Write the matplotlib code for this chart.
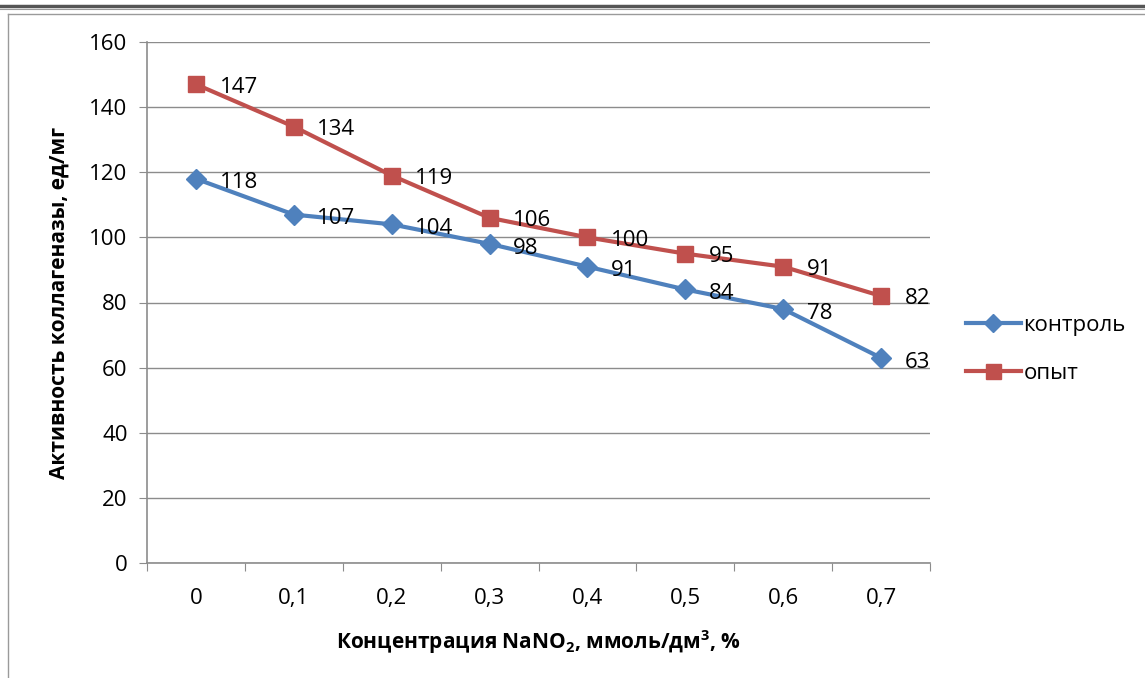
import numpy as np
import matplotlib.pyplot as plt
from matplotlib.lines import Line2D

plt.rcParams['font.family'] = ['Open Sans', 'DejaVu Sans']
plt.rcParams['mathtext.fontset'] = 'custom'
plt.rcParams['mathtext.bf'] = 'Open Sans:bold'
plt.rcParams['mathtext.rm'] = 'Open Sans'

categories = ['0', '0,1', '0,2', '0,3', '0,4', '0,5', '0,6', '0,7']
kontrol = [118, 107, 104, 98, 91, 84, 78, 63]
opyt = [147, 134, 119, 106, 100, 95, 91, 82]

blue = '#4F81BD'
red = '#C0504D'
grid = '#8C8C8C'

fig = plt.figure(figsize=(11.45, 6.78), dpi=100)
ax = fig.add_axes([147 / 1145, 1 - 563 / 678, 783 / 1145, 521 / 678])

x = np.arange(len(categories))
ax.plot(x, kontrol, color=blue, lw=3, marker='D', ms=10, label='контроль', zorder=3)
ax.plot(x, opyt, color=red, lw=3, marker='s', ms=12, label='опыт', zorder=3)

for i in range(len(x)):
	ax.annotate(str(kontrol[i]), (x[i], kontrol[i]), xytext=(17, -3), textcoords='offset points',
		ha='left', va='center', fontsize=16, zorder=4)
	ax.annotate(str(opyt[i]), (x[i], opyt[i]), xytext=(17, -2), textcoords='offset points',
		ha='left', va='center', fontsize=16, zorder=4)

ax.set_xlim(-0.5, 7.5)
ax.set_ylim(0, 160)
ax.set_yticks(range(0, 161, 20))
ax.yaxis.grid(True, color=grid, lw=1)
ax.set_axisbelow(True)

ax.set_xticks(np.arange(-0.5, 8, 1))
ax.set_xticklabels([])
ax.set_xticks(x, minor=True)
ax.set_xticklabels(categories, minor=True, fontsize=16)
ax.tick_params(axis='x', which='minor', length=0, pad=18)
ax.tick_params(axis='x', which='major', length=6, color=grid, direction='out')
ax.tick_params(axis='y', length=6, color=grid, labelsize=16, pad=8)

for s in ['top', 'right']:
	ax.spines[s].set_visible(False)
for s in ['left', 'bottom']:
	ax.spines[s].set_color(grid)
	ax.spines[s].set_linewidth(1.2)

ax.set_xlabel('Концентрация NaNO$_\\mathbf{2}$, ммоль/дм$^\\mathbf{3}$, %', fontsize=15,
	fontweight='bold', labelpad=14)
ax.set_ylabel('Активность коллагеназы, ед/мг', fontsize=15, fontweight='bold', labelpad=14)

ax.legend(loc='center left', bbox_to_anchor=(1.02, 0.41), frameon=False, fontsize=16,
	handlelength=2.5, handletextpad=0.1, labelspacing=1.2, markerscale=0.9)

# frame lines from the document page
fig.add_artist(Line2D([0, 1], [1 - 5.5 / 678, 1 - 5.5 / 678], color='#555555', lw=2.5))
fig.add_artist(Line2D([0, 1], [1 - 9 / 678, 1 - 9 / 678], color='#9a9a9a', lw=0.8))
fig.add_artist(Line2D([8 / 1145, 1], [1 - 13.5 / 678, 1 - 13.5 / 678], color='#9a9a9a', lw=1))
fig.add_artist(Line2D([8 / 1145, 8 / 1145], [0, 1 - 13.5 / 678], color='#9a9a9a', lw=1))

fig.savefig('out.png', dpi=100)
